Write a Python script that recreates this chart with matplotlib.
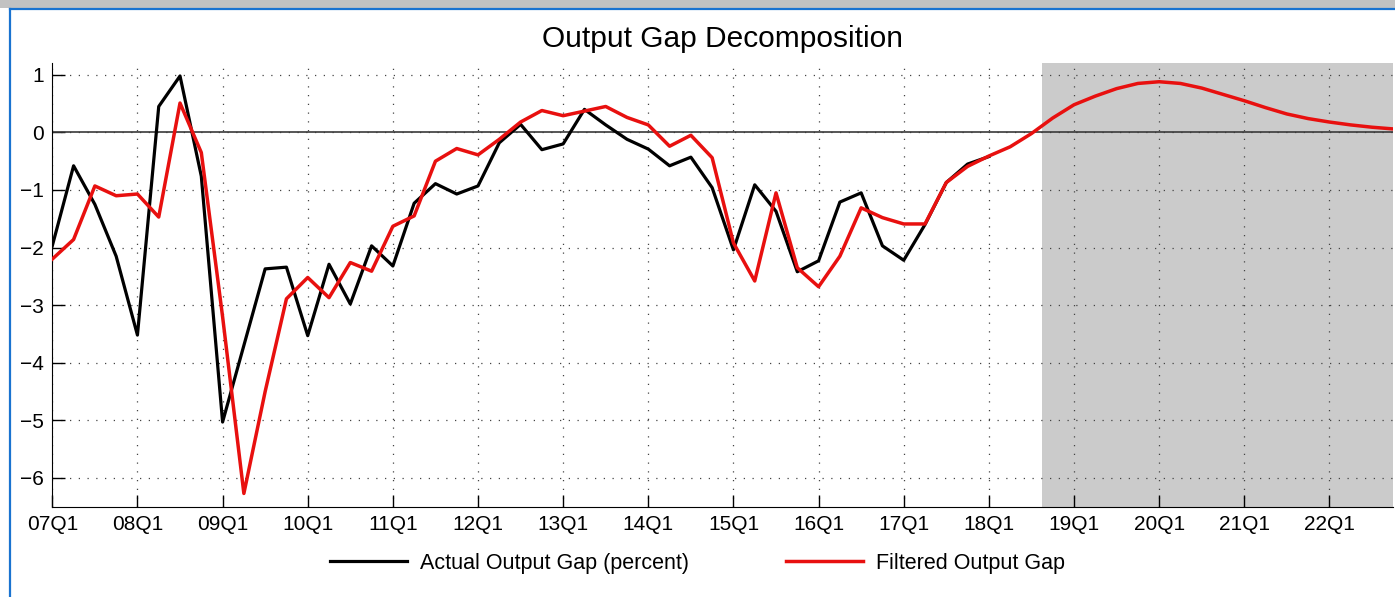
import numpy as np
import matplotlib
matplotlib.use("Agg")
import matplotlib.pyplot as plt
from matplotlib.patches import Rectangle
from matplotlib.lines import Line2D

plt.rcParams['font.family'] = ['Liberation Sans', 'DejaVu Sans']

# quarterly data starting 07Q1 (index 0)
actual_gap = [-1.97, -0.58, -1.25, -2.15, -3.52, 0.45, 0.98, -0.76,
              -5.03, -3.70, -2.37, -2.34, -3.53, -2.29, -2.98, -1.97,
              -2.32, -1.23, -0.89, -1.07, -0.93, -0.18, 0.14, -0.30,
              -0.20, 0.40, 0.13, -0.12, -0.29, -0.58, -0.43, -0.96,
              -2.04, -0.91, -1.37, -2.42, -2.23, -1.21, -1.05, -1.97,
              -2.22, -1.60, -0.87, -0.55, -0.42]
filtered_gap = [-2.20, -1.86, -0.93, -1.10, -1.07, -1.47, 0.51, -0.35,
                -3.20, -6.27, -4.50, -2.89, -2.52, -2.87, -2.26, -2.41,
                -1.63, -1.45, -0.50, -0.28, -0.39, -0.12, 0.18, 0.38,
                0.29, 0.37, 0.45, 0.26, 0.13, -0.24, -0.05, -0.44,
                -1.92, -2.58, -1.05, -2.35, -2.68, -2.15, -1.31, -1.48,
                -1.59, -1.59, -0.87, -0.59, -0.41, -0.25, -0.02, 0.25,
                0.48, 0.63, 0.76, 0.85, 0.88, 0.85, 0.77, 0.66,
                0.55, 0.43, 0.32, 0.24, 0.18, 0.13, 0.09, 0.06]
year_labels = ['07Q1', '08Q1', '09Q1', '10Q1', '11Q1', '12Q1', '13Q1', '14Q1',
               '15Q1', '16Q1', '17Q1', '18Q1', '19Q1', '20Q1', '21Q1', '22Q1']
y_ticks = [-6, -5, -4, -3, -2, -1, 0, 1]
forecast_start = 46.5

W, H = 1395, 597
fig = plt.figure(figsize=(W / 100, H / 100), dpi=100)

# window frame bits from the screenshot
fig.add_artist(Rectangle((0, 1 - 8 / H), 1, 8 / H, transform=fig.transFigure,
                         color='#c2c2c2', lw=0))
fig.add_artist(Line2D([10 / W, 1], [1 - 9 / H, 1 - 9 / H], transform=fig.transFigure,
                      color='#1a73d0', lw=1.6))
fig.add_artist(Line2D([10 / W, 10 / W], [0, 1 - 9 / H], transform=fig.transFigure,
                      color='#1a73d0', lw=1.6))

ax = fig.add_axes([52.3 / W, 1 - 506.7 / H, (1393.3 - 52.3) / W, (506.7 - 63.3) / H])

x_act = np.arange(len(actual_gap))
x_filt = np.arange(len(filtered_gap))

ax.axvspan(forecast_start, len(filtered_gap) - 1, color='#cbcbcb', lw=0, zorder=0)
ax.axhline(0, color='#3a3a3a', lw=1.2, zorder=1.5)
ax.plot(x_act, actual_gap, color='black', lw=2.3, label='Actual Output Gap (percent)', zorder=3)
ax.plot(x_filt, filtered_gap, color='#e8100f', lw=2.5, label='Filtered Output Gap', zorder=4)

ax.set_xlim(0, len(filtered_gap) - 1)
ax.set_ylim(-6.5, 1.2)
ax.set_xticks(np.arange(0, 4 * len(year_labels), 4))
ax.set_xticklabels(year_labels)
ax.set_yticks(y_ticks)

ax.grid(True, linestyle=(0, (1, 6)), color='#444444', lw=0.9, zorder=0.5)
ax.set_axisbelow(True)
for s in ['top', 'right']:
    ax.spines[s].set_visible(False)
ax.tick_params(direction='in', length=9, width=1, labelsize=15, pad=6, colors='black')

ax.set_title('Output Gap Decomposition', fontsize=21.5, pad=12)

fig.legend(loc='center', bbox_to_anchor=(0.5, 1 - 563 / H), ncol=2, frameon=False,
           fontsize=15.5, handlelength=3.6, handletextpad=0.6, columnspacing=4.5)

fig.savefig('out.png', dpi=100)
